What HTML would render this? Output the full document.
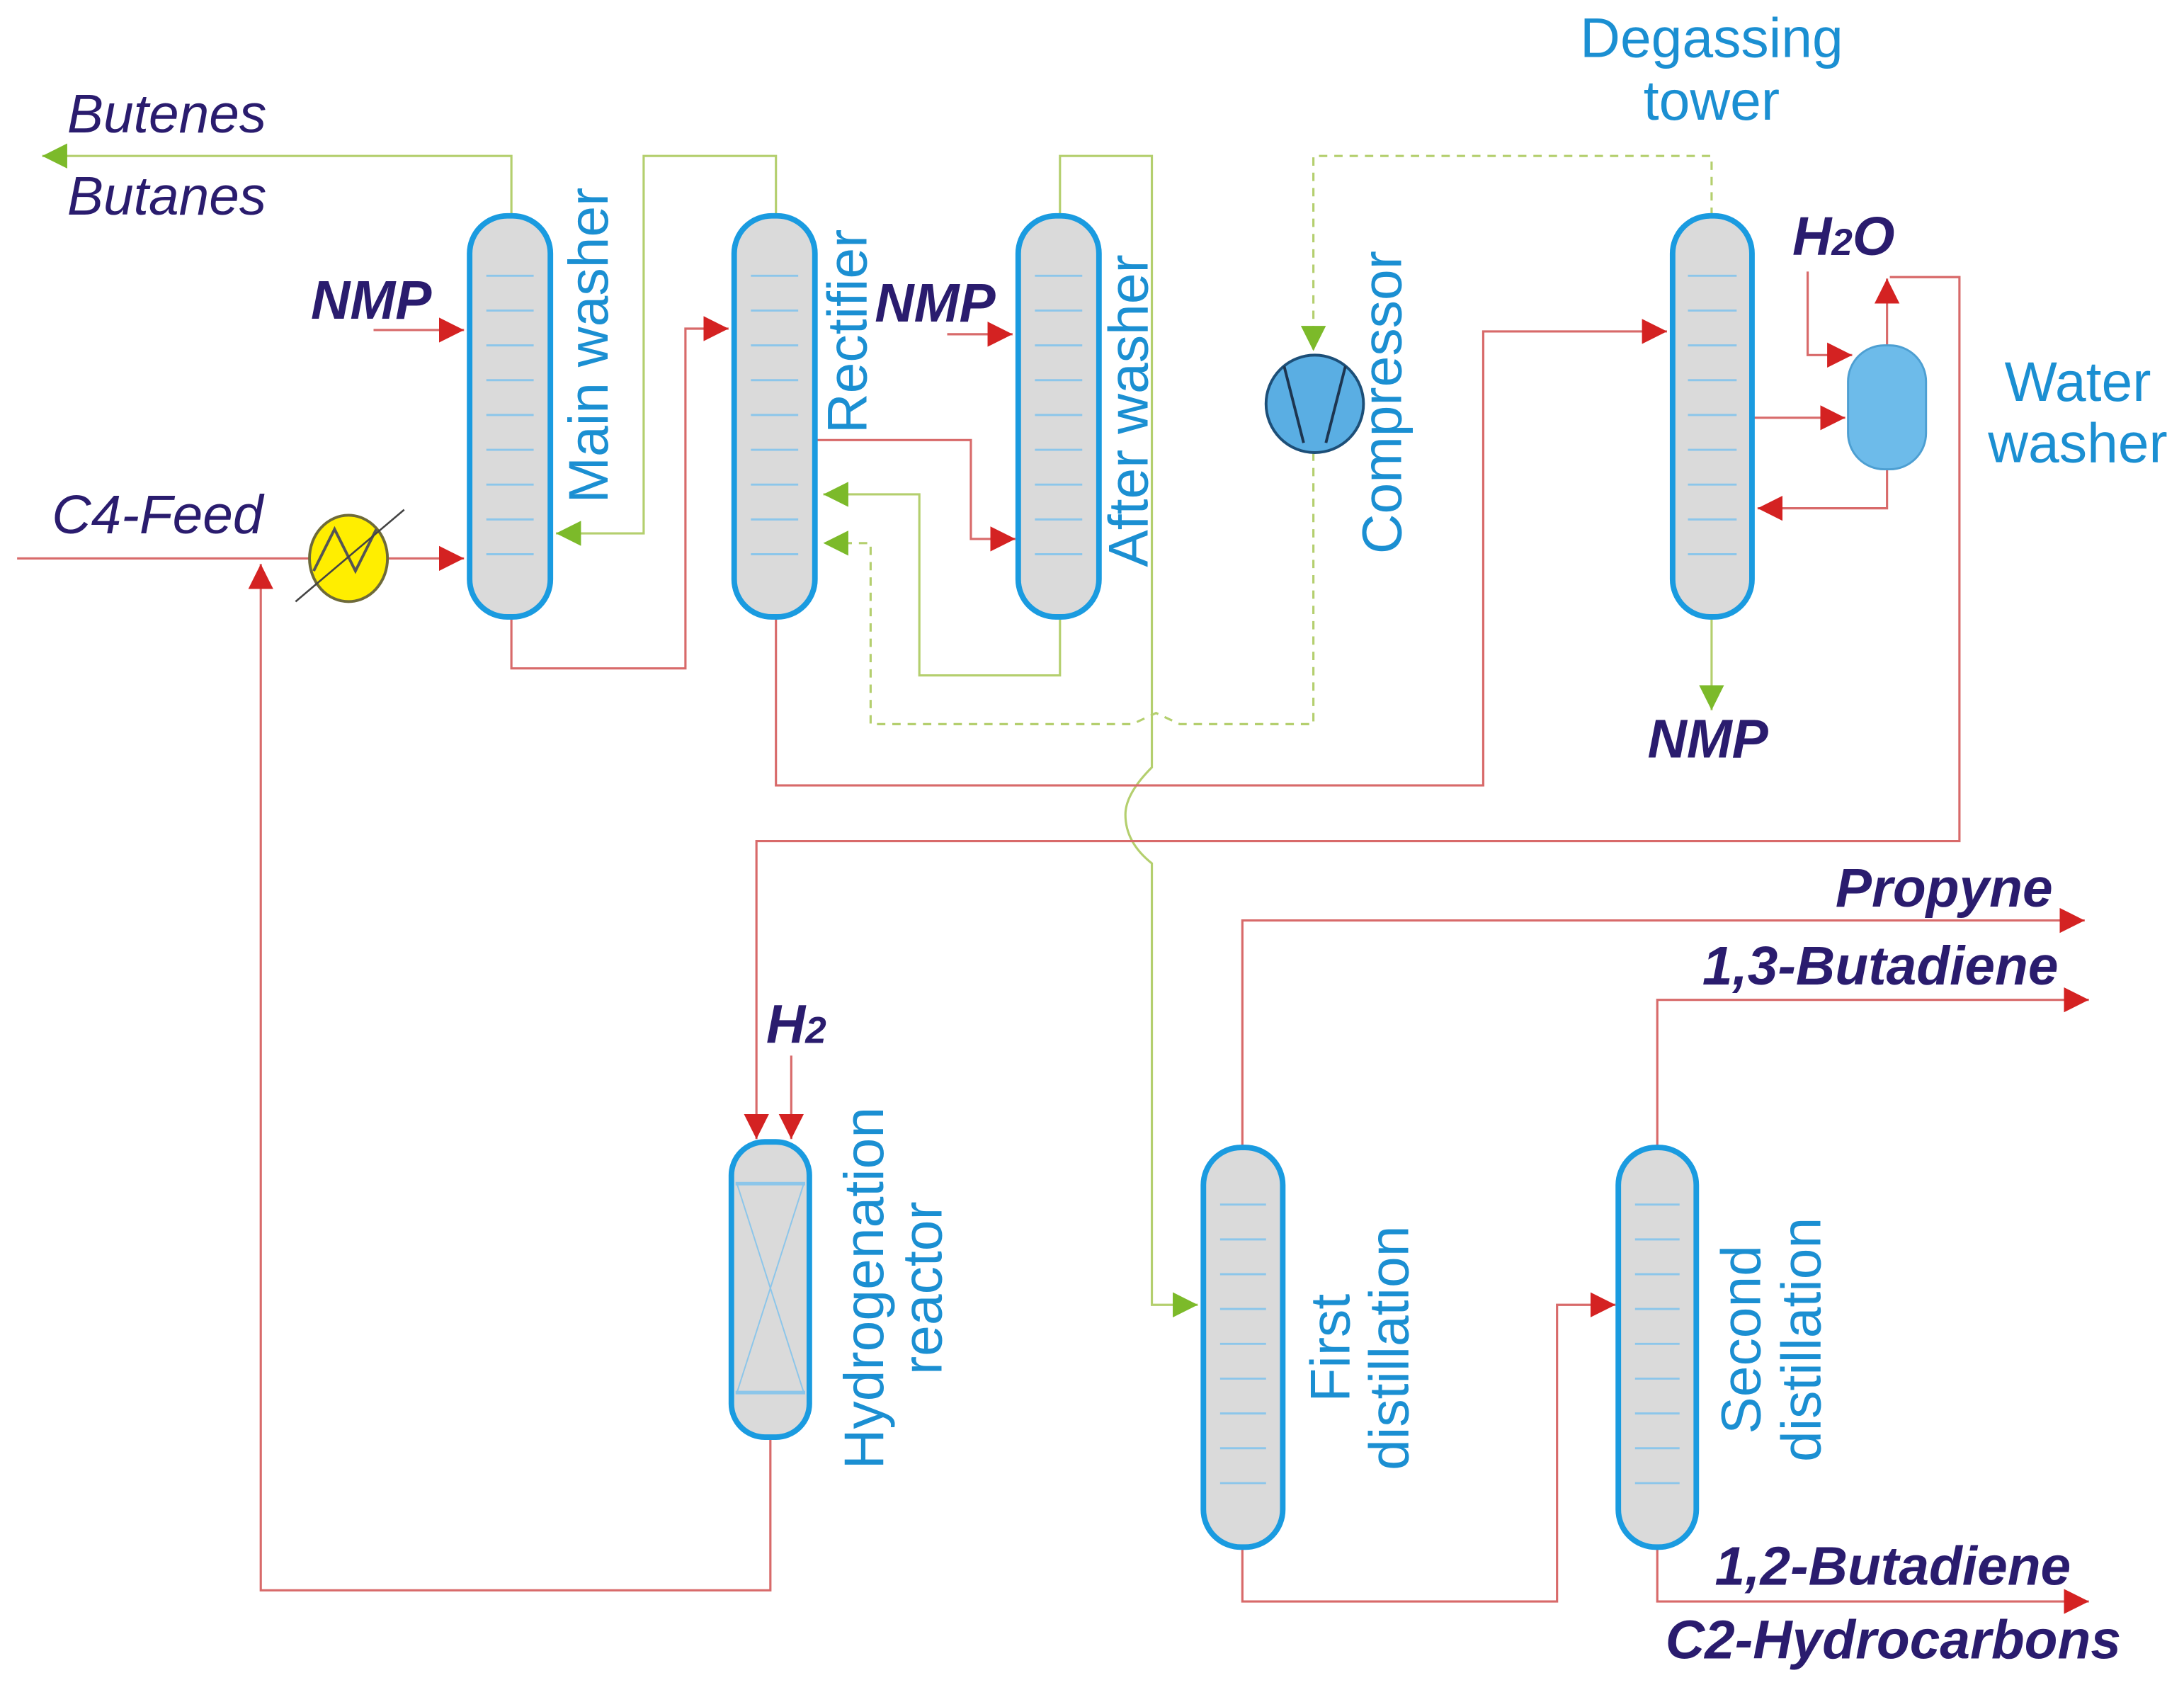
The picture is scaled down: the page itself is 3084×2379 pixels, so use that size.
<!DOCTYPE html>
<html><head><meta charset="utf-8"><style>
html,body{margin:0;padding:0;background:#fff}
svg{display:block}
</style></head><body>
<svg width="3084" height="2379" viewBox="0 0 1568 1210" xmlns="http://www.w3.org/2000/svg">
<defs>
<marker id="r" markerUnits="userSpaceOnUse" markerWidth="20" markerHeight="18" refX="18" refY="9" orient="auto"><path d="M0,0 L18,9 L0,18 z" fill="#d42222"/></marker>
<marker id="g" markerUnits="userSpaceOnUse" markerWidth="20" markerHeight="18" refX="18" refY="9" orient="auto"><path d="M0,0 L18,9 L0,18 z" fill="#7cba2a"/></marker>
</defs>
<rect width="1568" height="1210" fill="#fff"/>
<g fill="none" stroke-width="1.6">
<g stroke="#b4cf6e">
<path d="M367 155 V112 H30" marker-end="url(#g)"/>
<path d="M557 155 V112 H462 V383 H399" marker-end="url(#g)"/>
<path d="M761 155 V112 H827 V551 Q808 570 808 585 Q808 605 827 620 V937 H860" marker-end="url(#g)"/>
<path d="M761 443 V485 H660 V355 H591" marker-end="url(#g)"/>
<path d="M1229 443 V510" marker-end="url(#g)"/>
<g stroke-dasharray="6,5">
<path d="M1229 155 V112 H943 V252" marker-end="url(#g)"/>
<path d="M943 325 V520 H847 L830 512 L813 520 H625 V390 H591" marker-end="url(#g)"/>
</g>
</g>
<g stroke="#d86a6a">
<path d="M268 237 H333" marker-end="url(#r)"/>
<path d="M12 401 H222 M278 401 H333" marker-end="url(#r)"/>
<path d="M553 1032 V1142 H187 V405" marker-end="url(#r)"/>
<path d="M367 443 V480 H492 V236 H523" marker-end="url(#r)"/>
<path d="M680 240 H727" marker-end="url(#r)"/>
<path d="M585 316 H697 V387 H729" marker-end="url(#r)"/>
<path d="M557 443 V564 H1065 V238 H1197" marker-end="url(#r)"/>
<path d="M1258 300 H1325" marker-end="url(#r)"/>
<path d="M1298 195 V255 H1330" marker-end="url(#r)"/>
<path d="M1355 248 V200" marker-end="url(#r)"/>
<path d="M1357 199 H1407 V604 H543 V818" marker-end="url(#r)"/>
<path d="M1355 337 V365 H1262" marker-end="url(#r)"/>
<path d="M568 758 V818" marker-end="url(#r)"/>
<path d="M892 824 V661 H1497" marker-end="url(#r)"/>
<path d="M892 1111 V1150 H1118 V937 H1160" marker-end="url(#r)"/>
<path d="M1190 824 V718 H1500" marker-end="url(#r)"/>
<path d="M1190 1111 V1150 H1500" marker-end="url(#r)"/>
</g>
</g>
<g stroke="#1a9be0" stroke-width="4" fill="#dadada">
<rect x="337" y="155" width="58" height="288" rx="27"/>
<rect x="527" y="155" width="58" height="288" rx="27"/>
<rect x="731" y="155" width="58" height="288" rx="27"/>
<rect x="1201" y="155" width="57" height="288" rx="27"/>
<rect x="525" y="820" width="56" height="212" rx="24"/>
<rect x="864" y="824" width="57" height="287" rx="27"/>
<rect x="1162" y="824" width="56" height="287" rx="27"/>
</g>
<g stroke="#8cc6ea" stroke-width="1.5">
<path d="M349 198H383M349 223H383M349 248H383M349 273H383M349 298H383M349 323H383M349 348H383M349 373H383M349 398H383"/>
<path d="M539 198H573M539 223H573M539 248H573M539 273H573M539 298H573M539 323H573M539 348H573M539 373H573M539 398H573"/>
<path d="M743 198H777M743 223H777M743 248H777M743 273H777M743 298H777M743 323H777M743 348H777M743 373H777M743 398H777"/>
<path d="M1212 198H1247M1212 223H1247M1212 248H1247M1212 273H1247M1212 298H1247M1212 323H1247M1212 348H1247M1212 373H1247M1212 398H1247"/>
<path d="M876 865H909M876 890H909M876 915H909M876 940H909M876 965H909M876 990H909M876 1015H909M876 1040H909M876 1065H909"/>
<path d="M1174 865H1206M1174 890H1206M1174 915H1206M1174 940H1206M1174 965H1206M1174 990H1206M1174 1015H1206M1174 1040H1206M1174 1065H1206"/>
<path d="M528 850H578M528 1000H578" stroke-width="2.5"/>
<path d="M529 850L577 1000M577 850L529 1000" stroke-width="1"/>
</g>
<rect x="1327" y="248" width="56" height="89" rx="26" fill="#6dbbea" stroke="#4d9fd2" stroke-width="1.5"/>
<circle cx="944" cy="290" r="35" fill="#5aaee3" stroke="#1d4f78" stroke-width="2"/>
<path d="M922 263 L936 318 M966 263 L952 318" stroke="#1d3550" stroke-width="2" fill="none"/>
<ellipse cx="250" cy="401" rx="28" ry="31" fill="#ffee00" stroke="#6e6a3a" stroke-width="2"/>
<path d="M225 410 L240 380 L255 410 L270 380" stroke="#555" stroke-width="2" fill="none"/>
<path d="M212 432 L290 366" stroke="#444" stroke-width="1.3"/>
<g font-family="Liberation Sans, sans-serif" font-style="italic" fill="#2a1c6e" font-size="39">
<text x="48" y="95">Butenes</text>
<text x="48" y="154">Butanes</text>
<text x="37" y="383">C4-Feed</text>
<g font-weight="bold">
<text x="223" y="229">NMP</text>
<text x="628" y="231">NMP</text>
<text x="1183" y="544">NMP</text>
<text x="1287" y="183">H<tspan font-size="27">2</tspan>O</text>
<text x="550" y="749">H<tspan font-size="27">2</tspan></text>
<g text-anchor="end">
<text x="1474" y="651">Propyne</text>
<text x="1478" y="707">1,3-Butadiene</text>
<text x="1487" y="1138">1,2-Butadiene</text>
<text x="1523" y="1191">C2-Hydrocarbons</text>
</g>
</g>
</g>
<g font-family="Liberation Sans, sans-serif" fill="#1b8fd2" font-size="40" text-anchor="middle">
<text x="1229" y="41">Degassing</text>
<text x="1229" y="86">tower</text>
<text x="1492" y="288">Water</text>
<text x="1492" y="332">washer</text>
<text transform="translate(436,248) rotate(-90)">Main washer</text>
<text transform="translate(622,238) rotate(-90)">Rectifier</text>
<text transform="translate(824,295) rotate(-90)">After washer</text>
<text transform="translate(1006,289) rotate(-90)">Compressor</text>
<text transform="translate(634,925) rotate(-90)">Hydrogenation</text>
<text transform="translate(676,925) rotate(-90)">reactor</text>
<text transform="translate(969,968) rotate(-90)">First</text>
<text transform="translate(1011,968) rotate(-90)">distillation</text>
<text transform="translate(1264,962) rotate(-90)">Second</text>
<text transform="translate(1307,962) rotate(-90)">distillation</text>
</g>
</svg>
</body></html>
